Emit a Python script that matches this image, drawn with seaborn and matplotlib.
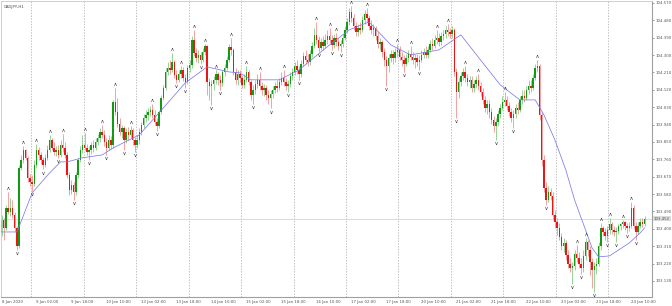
import matplotlib
matplotlib.use("Agg")
import matplotlib.pyplot as plt
import matplotlib.transforms as mtransforms
import seaborn as sns
import pandas as pd

symbol = "CADJPY,H1"
x_tick_labels = ["8 Jan 2020", "9 Jan 02:00", "9 Jan 18:00", "10 Jan 10:00", "13 Jan 02:00",
                 "13 Jan 18:00", "14 Jan 10:00", "15 Jan 02:00", "15 Jan 18:00", "16 Jan 10:00",
                 "17 Jan 02:00", "17 Jan 18:00", "20 Jan 10:00", "21 Jan 02:00", "21 Jan 18:00",
                 "22 Jan 10:00", "23 Jan 02:00", "23 Jan 18:00", "24 Jan 10:00"]
x_tick_bars = [0, 16, 32, 48, 64, 80, 96, 112, 128, 144, 160, 176, 192, 208, 224, 240, 256, 272, 288]
y_ticks = [104.570, 104.480, 104.390, 104.300, 104.210, 104.120, 104.030, 103.940, 103.850,
           103.760, 103.670, 103.580, 103.490, 103.400, 103.310, 103.220, 103.130]
midnight_bars = [14, 38, 62, 86, 110, 134, 158, 182, 206, 230, 254, 278]

first_open = 103.384
closes = [
    # 8 Jan
    103.446, 103.405, 103.509, 103.488, 103.509, 103.472, 103.405, 103.312, 103.716, 103.757,
    103.809, 103.768, 103.664, 103.643,
    # 9 Jan
    103.633, 103.731, 103.809, 103.783, 103.757, 103.731, 103.768, 103.809, 103.861, 103.819,
    103.799, 103.809, 103.783, 103.835, 103.819, 103.783, 103.680, 103.602, 103.628, 103.591,
    103.680, 103.757, 103.809, 103.835,
    # 10 Jan
    103.819, 103.799, 103.809, 103.835, 103.819, 103.850, 103.871, 103.902, 103.887, 103.850,
    103.819, 103.861, 103.835, 104.057, 104.006, 103.944, 103.902, 103.923, 103.861, 103.902,
    103.887, 103.913, 103.861, 103.835,
    # 13 Jan
    103.861, 103.902, 103.939, 103.975, 103.990, 104.006, 104.016, 103.990, 103.954, 103.933,
    104.006, 104.078, 104.130, 104.213, 104.234, 104.223, 104.265, 104.198, 104.172, 104.203,
    104.223, 104.182, 104.161, 104.234,
    # 14 Jan
    104.249, 104.379, 104.311, 104.286, 104.301, 104.275, 104.317, 104.348, 104.161, 104.141,
    104.151, 104.172, 104.203, 104.172, 104.156, 104.213, 104.234, 104.275, 104.343, 104.327,
    104.213, 104.172, 104.203, 104.182,
    # 15 Jan
    104.146, 104.172, 104.213, 104.161, 104.094, 104.120, 104.151, 104.172, 104.141, 104.120,
    104.130, 104.094, 104.078, 104.099, 104.120, 104.141, 104.130, 104.161, 104.182, 104.161,
    104.141, 104.151, 104.192, 104.213,
    # 16 Jan
    104.244, 104.223, 104.203, 104.254, 104.296, 104.275, 104.265, 104.306, 104.348, 104.405,
    104.379, 104.337, 104.368, 104.348, 104.379, 104.400, 104.379, 104.353, 104.389, 104.368,
    104.348, 104.358, 104.389, 104.431,
    # 17 Jan
    104.472, 104.524, 104.493, 104.451, 104.420, 104.441, 104.431, 104.482, 104.513, 104.493,
    104.451, 104.431, 104.441, 104.400, 104.358, 104.368, 104.317, 104.275, 104.244, 104.286,
    104.306, 104.286, 104.317, 104.327,
    # 20 Jan
    104.290, 104.275, 104.254, 104.286, 104.306, 104.290, 104.275, 104.286, 104.265, 104.275,
    104.301, 104.317, 104.301, 104.327, 104.358, 104.348, 104.379, 104.389, 104.368, 104.400,
    104.410, 104.431, 104.420, 104.410,
    # 21 Jan
    104.431, 104.213, 104.109, 104.161, 104.192, 104.213, 104.182, 104.161, 104.172, 104.130,
    104.151, 104.172, 104.141, 104.109, 104.068, 104.026, 104.047, 104.006, 103.964, 103.933,
    103.954, 103.995, 104.026, 104.057,
    # 22 Jan
    104.068, 104.037, 104.006, 103.975, 103.995, 104.026, 104.016, 104.068, 104.089, 104.078,
    104.120, 104.141, 104.130, 104.182, 104.234, 104.244, 103.990, 103.757, 103.612, 103.550,
    103.591, 103.571, 103.472, 103.436,
    # 23 Jan
    103.405, 103.358, 103.312, 103.327, 103.265, 103.218, 103.198, 103.208, 103.270, 103.250,
    103.218, 103.198, 103.260, 103.332, 103.291, 103.229, 103.187, 103.208, 103.218, 103.312,
    103.405, 103.384, 103.363, 103.395,
    # 24 Jan
    103.426, 103.395, 103.384, 103.389, 103.415, 103.426, 103.436, 103.415, 103.405, 103.415,
    103.509, 103.415, 103.384, 103.415, 103.436, 103.426, 103.452,
]
highs = [
    103.472, 103.457, 103.524, 103.591, 103.560, 103.550, 103.488, 103.415, 103.731, 103.783,
    103.830, 103.814, 103.778, 103.685,
    103.680, 103.757, 103.840, 103.825, 103.799, 103.773, 103.788, 103.835, 103.887, 103.871,
    103.850, 103.830, 103.835, 103.861, 103.892, 103.850, 103.799, 103.695, 103.654, 103.643,
    103.695, 103.768, 103.830, 103.887,
    103.897, 103.840, 103.830, 103.850, 103.861, 103.871, 103.892, 103.923, 103.939, 103.913,
    103.871, 103.887, 103.882, 104.068, 104.130, 104.078, 103.975, 103.939, 103.933, 103.923,
    103.928, 103.933, 103.923, 103.876,
    103.887, 103.923, 103.954, 103.995, 104.016, 104.026, 104.037, 104.047, 104.016, 103.975,
    104.016, 104.094, 104.146, 104.234, 104.265, 104.275, 104.311, 104.275, 104.223, 104.223,
    104.244, 104.239, 104.203, 104.249,
    104.275, 104.400, 104.431, 104.337, 104.327, 104.317, 104.337, 104.358, 104.353, 104.182,
    104.172, 104.192, 104.223, 104.213, 104.198, 104.223, 104.254, 104.296, 104.358, 104.389,
    104.337, 104.234, 104.223, 104.223,
    104.198, 104.203, 104.244, 104.223, 104.172, 104.146, 104.172, 104.203, 104.213, 104.161,
    104.151, 104.146, 104.120, 104.120, 104.141, 104.161, 104.172, 104.182, 104.213, 104.223,
    104.182, 104.172, 104.213, 104.234,
    104.265, 104.275, 104.244, 104.275, 104.317, 104.327, 104.306, 104.327, 104.368, 104.441,
    104.472, 104.400, 104.389, 104.400, 104.410, 104.431, 104.441, 104.405, 104.410, 104.415,
    104.389, 104.379, 104.410, 104.451,
    104.493, 104.545, 104.555, 104.513, 104.472, 104.462, 104.472, 104.503, 104.534, 104.545,
    104.508, 104.482, 104.462, 104.451, 104.420, 104.389, 104.379, 104.337, 104.296, 104.306,
    104.327, 104.327, 104.337, 104.358,
    104.348, 104.317, 104.301, 104.306, 104.327, 104.348, 104.317, 104.306, 104.306, 104.301,
    104.327, 104.337, 104.348, 104.348, 104.379, 104.389, 104.405, 104.431, 104.415, 104.420,
    104.431, 104.451, 104.462, 104.441,
    104.451, 104.441, 104.234, 104.182, 104.213, 104.234, 104.244, 104.203, 104.192, 104.192,
    104.172, 104.192, 104.203, 104.161, 104.130, 104.089, 104.068, 104.068, 104.026, 103.985,
    103.975, 104.016, 104.047, 104.089,
    104.109, 104.089, 104.057, 104.026, 104.016, 104.047, 104.057, 104.089, 104.120, 104.120,
    104.141, 104.172, 104.172, 104.203, 104.254, 104.275, 104.254, 104.006, 103.783, 103.643,
    103.623, 103.612, 103.591, 103.498,
    103.457, 103.431, 103.379, 103.353, 103.343, 103.291, 103.250, 103.229, 103.291, 103.317,
    103.281, 103.250, 103.291, 103.353, 103.343, 103.312, 103.250, 103.229, 103.250, 103.332,
    103.431, 103.415, 103.405, 103.415,
    103.457, 103.436, 103.415, 103.410, 103.426, 103.431, 103.446, 103.441, 103.431, 103.436,
    103.540, 103.524, 103.436, 103.436, 103.457, 103.457, 103.467,
]
lows = [
    103.363, 103.343, 103.395, 103.477, 103.467, 103.457, 103.384, 103.291, 103.301, 103.705,
    103.742, 103.757, 103.643, 103.623,
    103.597, 103.623, 103.716, 103.757, 103.736, 103.710, 103.721, 103.757, 103.799, 103.809,
    103.783, 103.778, 103.768, 103.773, 103.799, 103.768, 103.664, 103.576, 103.581, 103.550,
    103.576, 103.664, 103.747, 103.794,
    103.809, 103.783, 103.757, 103.788, 103.799, 103.809, 103.835, 103.850, 103.871, 103.830,
    103.783, 103.809, 103.814, 103.819, 103.990, 103.928, 103.887, 103.871, 103.809, 103.845,
    103.861, 103.871, 103.835, 103.799,
    103.819, 103.840, 103.887, 103.923, 103.954, 103.964, 103.985, 103.975, 103.939, 103.907,
    103.923, 103.995, 104.068, 104.120, 104.198, 104.203, 104.213, 104.182, 104.156, 104.161,
    104.182, 104.166, 104.130, 104.151,
    104.213, 104.234, 104.296, 104.265, 104.260, 104.254, 104.265, 104.301, 104.094, 104.068,
    104.042, 104.120, 104.151, 104.146, 104.120, 104.141, 104.192, 104.223, 104.265, 104.301,
    104.198, 104.151, 104.146, 104.161,
    104.130, 104.130, 104.161, 104.146, 104.068, 104.047, 104.099, 104.130, 104.120, 104.094,
    104.089, 104.068, 104.047, 104.026, 104.078, 104.104, 104.109, 104.120, 104.146, 104.141,
    104.120, 104.109, 104.135, 104.172,
    104.198, 104.203, 104.172, 104.187, 104.244, 104.254, 104.244, 104.249, 104.291, 104.337,
    104.358, 104.317, 104.327, 104.327, 104.337, 104.358, 104.363, 104.327, 104.337, 104.348,
    104.327, 104.317, 104.343, 104.379,
    104.415, 104.457, 104.472, 104.431, 104.400, 104.400, 104.410, 104.420, 104.462, 104.472,
    104.431, 104.410, 104.400, 104.379, 104.337, 104.327, 104.290, 104.244, 104.141, 104.213,
    104.265, 104.254, 104.265, 104.290,
    104.275, 104.244, 104.213, 104.244, 104.265, 104.275, 104.254, 104.234, 104.244, 104.223,
    104.265, 104.286, 104.286, 104.286, 104.317, 104.327, 104.337, 104.358, 104.348, 104.353,
    104.379, 104.389, 104.400, 104.389,
    104.389, 104.192, 103.975, 104.078, 104.141, 104.172, 104.161, 104.141, 104.130, 104.109,
    104.109, 104.130, 104.120, 104.089, 104.047, 104.006, 103.995, 103.975, 103.944, 103.902,
    103.861, 103.933, 103.975, 104.016,
    104.037, 104.016, 103.985, 103.954, 103.923, 103.975, 103.995, 104.006, 104.047, 104.057,
    104.068, 104.099, 104.109, 104.120, 104.172, 104.213, 103.964, 103.726, 103.591, 103.524,
    103.540, 103.550, 103.446, 103.405,
    103.369, 103.343, 103.291, 103.281, 103.239, 103.198, 103.177, 103.115, 103.187, 103.229,
    103.198, 103.167, 103.177, 103.239, 103.260, 103.162, 103.094, 103.074, 103.167, 103.208,
    103.291, 103.363, 103.343, 103.332,
    103.374, 103.374, 103.363, 103.332, 103.374, 103.395, 103.405, 103.395, 103.379, 103.389,
    103.405, 103.400, 103.343, 103.374, 103.405, 103.410, 103.415,
]
ma_bars = [0, 7, 8, 14, 22, 27, 30, 37, 46, 51, 63, 72, 84, 94, 104, 109, 114, 127, 136, 150,
           159, 168, 178, 187, 200, 210, 219, 228, 237, 244, 248, 253, 258, 262, 267, 270, 273,
           278, 287, 292, 294]
ma_vals = [103.384, 103.384, 103.410, 103.586, 103.690, 103.747, 103.747, 103.768, 103.783,
           103.819, 103.887, 104.001, 104.156, 104.239, 104.213, 104.208, 104.172, 104.172,
           104.223, 104.353, 104.431, 104.472, 104.353, 104.301, 104.327, 104.405, 104.275,
           104.146, 104.068, 104.068, 103.990, 103.861, 103.705, 103.550, 103.395, 103.301,
           103.255, 103.260, 103.327, 103.379, 103.405]

n = len(closes)
opens = [first_open] + closes[:-1]
df = pd.DataFrame({"bar": range(n), "open": opens, "high": highs, "low": lows, "close": closes})
df["up"] = df["close"] >= df["open"]

# Bill Williams fractals from the bar highs/lows
up_fr, dn_fr = [], []
for i in range(2, n - 2):
    h = highs
    if h[i] > h[i - 1] and h[i] > h[i - 2] and h[i] > h[i + 1] and h[i] > h[i + 2]:
        up_fr.append((i, h[i]))
    lo = lows
    if lo[i] < lo[i - 1] and lo[i] < lo[i - 2] and lo[i] < lo[i + 1] and lo[i] < lo[i + 2]:
        dn_fr.append((i, lo[i]))

fig = plt.figure(figsize=(6.72, 3.06), dpi=100)
sns.set_theme(style="white")
plt.rcParams['font.family'] = ['DejaVu Sans']
ax = fig.add_axes([1 / 672, 9 / 306, 651 / 672, 296 / 306])

for b in midnight_bars:
    ax.axvline(b - 0.5, color="#a8a8a8", lw=0.5, ls=(0, (2, 2)), zorder=0)
last_price = closes[-1]
ax.axhline(last_price, color="#d6d6d6", lw=0.6, zorder=0)

green, red = "#139a13", "#ee1414"
wick_green, wick_red = "#86cc86", "#f39090"
for up, body_c, wick_c in [(True, green, wick_green), (False, red, wick_red)]:
    d = df[df["up"] == up]
    ax.vlines(d["bar"], d["low"], d["high"], color=wick_c, lw=0.6, zorder=1)
    bottom = d[["open", "close"]].min(axis=1)
    height = (d["close"] - d["open"]).abs().clip(lower=0.0025)
    ax.bar(d["bar"], height, bottom=bottom, width=0.66, color=body_c, lw=0, zorder=2)

ma_df = pd.DataFrame({"bar": ma_bars, "ma": ma_vals})
sns.lineplot(data=ma_df, x="bar", y="ma", ax=ax, color="#7b7bea", lw=0.55, zorder=3)

up_off = mtransforms.offset_copy(ax.transData, fig=fig, x=0, y=3.5, units="dots")
dn_off = mtransforms.offset_copy(ax.transData, fig=fig, x=0, y=-3.5, units="dots")
fr_up = pd.DataFrame(up_fr, columns=["bar", "price"])
fr_dn = pd.DataFrame(dn_fr, columns=["bar", "price"])
ax.scatter(fr_up["bar"], fr_up["price"], marker=r"$\wedge$", s=5, color="#333333", lw=0,
           transform=up_off, zorder=4)
ax.scatter(fr_dn["bar"], fr_dn["price"], marker=r"$\vee$", s=5, color="#333333", lw=0,
           transform=dn_off, zorder=4)

ax.set_xlim(-0.23, 297.4)
ax.set_ylim(103.0471, 104.5803)
ax.yaxis.tick_right()
ax.set_yticks(y_ticks)
ax.set_yticklabels([f"{v:.3f}" for v in y_ticks])
ax.set_xticks(x_tick_bars)
ax.set_xticklabels(x_tick_labels, ha="left")
ax.tick_params(axis="both", labelsize=2.8, colors="#555555", length=1.5, width=0.4, pad=1)
for s in ["top", "left"]:
    ax.spines[s].set_color("#c8c8c8")
    ax.spines[s].set_linewidth(0.6)
for s in ["right", "bottom"]:
    ax.spines[s].set_color("#a0a0a0")
    ax.spines[s].set_linewidth(0.8)
ax.set_xlabel("")
ax.set_ylabel("")
ax.text(0.004, 0.985, symbol, transform=ax.transAxes, fontsize=2.8, color="#444444",
        va="top", ha="left")
ax.text(1.003, last_price, f"{last_price:.3f}", transform=ax.get_yaxis_transform(),
        fontsize=2.8, color="#555555", va="center", ha="left",
        bbox=dict(boxstyle="square,pad=0.15", fc="#dcdcdc", ec="none"))

fig.savefig("out.png", dpi=100)
